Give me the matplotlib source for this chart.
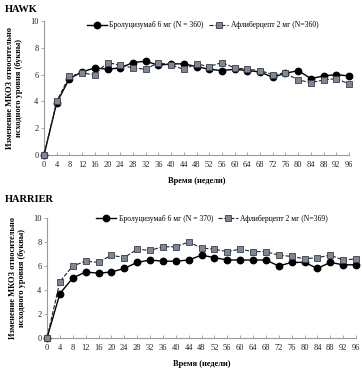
import matplotlib
matplotlib.use("Agg")
import matplotlib.pyplot as plt

weeks = [0, 4, 8, 12, 16, 20, 24, 28, 32, 36, 40, 44, 48, 52, 56, 60, 64, 68, 72, 76, 80, 84, 88, 92, 96]

hawk_bro = [0, 3.9, 5.7, 6.2, 6.5, 6.4, 6.5, 6.9, 7.0, 6.7, 6.8, 6.8, 6.6, 6.4, 6.3, 6.4, 6.3, 6.2, 5.8, 6.1, 6.3, 5.7, 5.9, 6.0, 5.9]
hawk_afl = [0, 4.0, 5.9, 6.1, 6.0, 6.9, 6.7, 6.5, 6.4, 6.9, 6.7, 6.4, 6.8, 6.6, 6.9, 6.5, 6.4, 6.3, 6.0, 6.1, 5.6, 5.4, 5.6, 5.7, 5.3]

harrier_bro = [0, 3.7, 5.0, 5.5, 5.4, 5.5, 5.8, 6.3, 6.5, 6.4, 6.4, 6.5, 6.9, 6.7, 6.5, 6.5, 6.5, 6.5, 6.0, 6.3, 6.3, 5.8, 6.3, 6.1, 6.1]
harrier_afl = [0, 4.7, 6.0, 6.4, 6.3, 6.9, 6.7, 7.4, 7.3, 7.6, 7.6, 8.0, 7.5, 7.4, 7.2, 7.4, 7.2, 7.2, 6.9, 6.8, 6.6, 6.7, 6.9, 6.5, 6.6]

titles = ["HAWK", "HARRIER"]
bro_labels = ["Бролуцизумаб 6 мг (N = 360)", "Бролуцизумаб 6 мг (N = 370)"]
afl_labels = ["Афлиберцепт 2 мг (N=360)", "Афлиберцепт 2 мг (N=369)"]
ylabel = "Изменение МКОЗ относительно\nисходного уровня (буквы)"
xlabel = "Время (недели)"
yticks = [0, 2, 4, 6, 8, 10]

plt.rcParams['font.family'] = ['Liberation Serif', 'DejaVu Serif']

fig = plt.figure(figsize=(3.62, 3.68), dpi=100)
W, H = 362, 368
boxes = [(44, 21, 349, 155), (47, 218, 356, 338)]
title_y = [10, 199]
leg_anchor = [(0.13, 1.02), (0.15, 1.05)]
data = [(hawk_bro, hawk_afl), (harrier_bro, harrier_afl)]

axis_col = "#9a9a9a"
sq_face = "#7d8796"
sq_edge = "#3a3f48"

for i in range(2):
    l, t, r, b = boxes[i]
    ax = fig.add_axes([l / W, 1 - b / H, (r - l) / W, (b - t) / H])
    bro, afl = data[i]
    ax.plot(weeks, bro, '-', color='black', lw=1.0, marker='o', ms=4.6,
            mfc='black', mec='black', label=bro_labels[i], clip_on=False, zorder=3)
    ax.plot(weeks, afl, '--', color='#222222', lw=0.8, marker='s', ms=4.6,
            mfc=sq_face, mec=sq_edge, mew=0.6, label=afl_labels[i], clip_on=False, zorder=4)
    ax.set_xlim(0, 96)
    ax.set_ylim(0, 10)
    ax.set_xticks(weeks)
    ax.set_yticks(yticks)
    for s in ['top', 'right']:
        ax.spines[s].set_visible(False)
    for s in ['left', 'bottom']:
        ax.spines[s].set_color(axis_col)
        ax.spines[s].set_linewidth(0.8)
    ax.tick_params(axis='both', labelsize=6, colors=axis_col, labelcolor='#222222',
                   length=2, width=0.6, pad=2)
    ax.tick_params(axis='x', direction='in', pad=4)
    ax.set_xlabel(xlabel, fontsize=6, fontweight='bold', labelpad=6)
    ax.set_ylabel(ylabel, fontsize=6, fontweight='bold', labelpad=5, linespacing=1.1)
    leg = ax.legend(loc='upper left', bbox_to_anchor=leg_anchor[i], ncol=2, frameon=False,
                    fontsize=5.5, handlelength=2.6, columnspacing=0.7, handletextpad=0.3,
                    borderaxespad=0)
    fig.text(5 / W, 1 - title_y[i] / H, titles[i], fontsize=7.5, fontweight='bold',
             va='center', ha='left')

fig.savefig("out.png", dpi=100)
